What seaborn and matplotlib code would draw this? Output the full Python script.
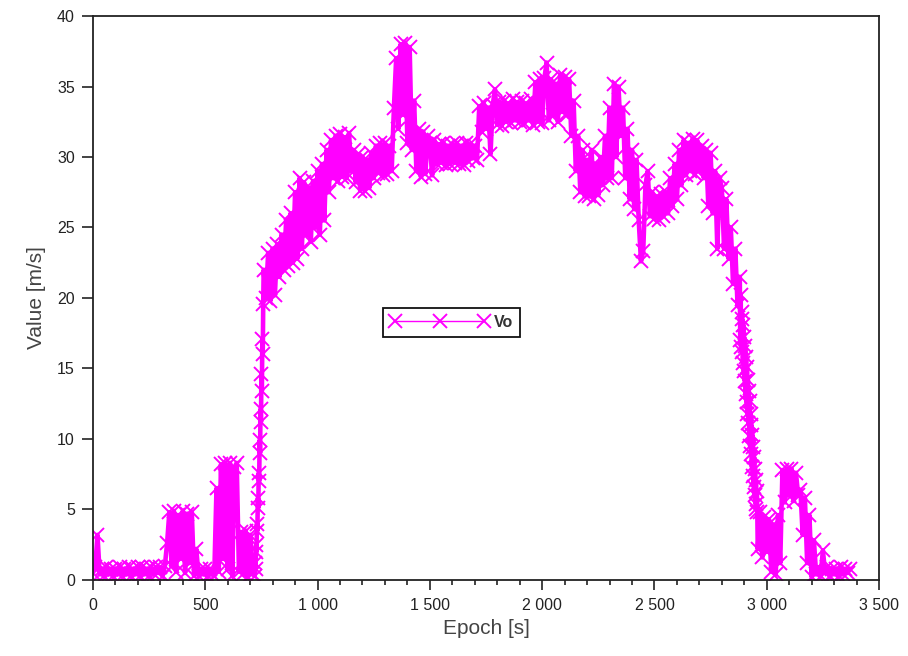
"""
Vo speed profile - Scilab-style line/marker plot recreated with seaborn
"""
import numpy as np
import matplotlib
matplotlib.use('Agg')
import matplotlib.pyplot as plt
from matplotlib.ticker import MultipleLocator, FuncFormatter
import seaborn as sns

# Vo readings [m/s]; 10 s apart except on the two steep ramps (2 s apart)
vo_start = [                                                    # 0 .. 710 s
    0.5, 0.9, 3.2, 0.4, 0.8, 0.3, 0.9, 0.4, 0.8, 0.3,
    0.8, 0.4, 0.9, 0.3, 0.8, 0.4, 0.9, 0.3, 0.8, 0.4,
    0.9, 0.3, 0.9, 0.4, 0.8, 0.3, 0.9, 0.4, 0.9, 0.5,
    0.9, 0.3, 1.0, 2.6, 4.8, 1.0, 4.9, 0.6, 4.6, 1.5,
    4.9, 0.5, 4.7, 1.2, 4.8, 0.3, 2.2, 0.3, 0.8, 0.4,
    0.8, 0.3, 0.8, 0.4, 0.3, 6.5, 0.6, 8.2, 1.5, 8.3,
    0.8, 8.3, 0.3, 8.0, 8.3, 0.6, 3.4, 0.4, 3.5, 0.2,
    3.2, 0.4,
]
vo_rise = [                                                     # 720 .. 760 s
    0.3, 1.2, 0.8, 2.5, 2.0, 4.0, 3.5, 5.8, 5.1, 7.6, 7.0,
    9.9, 9.0, 12.1, 11.2, 14.6, 13.4, 17.1, 16.0, 19.6, 22.0,
]
vo_mid = [                                                      # 770 .. 2870 s
    20.0, 23.2, 19.8,
    23.5, 20.2, 23.8, 21.5, 24.5, 22.0, 25.5, 22.3, 26.0, 22.5,
    27.5, 22.8, 28.5, 23.5, 28.2, 24.5, 27.8, 24.0, 28.3, 25.0,
    29.0, 24.5, 29.5, 25.5, 30.5, 27.5, 31.2, 28.5, 31.5, 28.3,
    31.6, 28.6, 31.4, 28.5, 31.7, 29.0, 30.5, 28.2, 30.2, 27.6,
    30.0, 27.6, 29.8, 27.8, 30.3, 28.5, 30.8, 28.9, 31.0, 28.7,
    31.0, 28.8, 30.8, 29.0, 33.5, 37.0, 32.0, 38.0, 33.0, 38.1,
    31.0, 37.8, 30.5, 34.0, 29.0, 32.0, 28.6, 31.8, 28.8, 31.5,
    31.0, 28.7, 31.2, 29.5, 30.9, 29.6, 31.0, 29.4, 30.8, 29.5,
    30.9, 29.6, 31.0, 29.5, 30.8, 29.4, 31.0, 29.7, 30.9, 29.9,
    30.8, 29.8, 33.6, 31.8, 33.8, 32.0, 33.5, 30.2, 33.7, 34.8,
    32.3, 33.9, 32.2, 34.0, 32.5, 33.8, 32.4, 34.1, 32.6, 33.9,
    32.5, 34.0, 32.4, 33.8, 32.6, 34.1, 32.3, 35.3, 32.5, 35.5,
    32.4, 35.6, 36.7, 32.6, 35.5, 33.0, 35.2, 32.5, 35.8, 33.2,
    35.7, 33.0, 35.5, 31.5, 34.0, 29.0, 31.5, 27.5, 30.5, 27.2,
    29.8, 27.2, 30.5, 27.0, 29.5, 27.3, 30.0, 28.0, 31.5, 28.5,
    33.5, 28.5, 35.2, 30.0, 35.0, 31.5, 33.5, 28.5, 32.0, 27.0,
    30.5, 26.3, 29.8, 25.5, 22.6, 23.3, 28.0, 29.0, 25.8, 27.5,
    25.6, 27.2, 25.5, 27.4, 25.8, 27.5, 26.0, 28.5, 26.5, 29.5,
    27.0, 30.5, 28.0, 31.2, 28.7, 31.0, 29.0, 31.3, 28.8, 31.2,
    29.0, 30.8, 28.5, 30.5, 26.5, 30.3, 26.0, 29.0, 23.5, 28.5,
    27.8, 23.5, 27.0, 22.8, 25.0, 21.0, 23.5, 19.5,
]
vo_fall = [                                                     # 2880 .. 2958 s
    21.5, 17.0, 20.2, 16.5, 19.0, 16.2, 18.5, 15.4, 18.1, 14.8,
    17.2, 14.1, 16.6, 13.2, 15.8, 12.6, 15.1, 11.8, 14.2, 11.1,
    13.4, 10.2, 12.7, 9.5, 11.8, 8.9, 11.0, 8.0, 10.3, 7.4,
    9.4, 6.6, 8.7, 6.0, 7.9, 5.4, 7.1, 5.0, 6.3, 4.8,
]
vo_end = [                                                      # 2960 .. 3370 s
    2.2, 4.8, 1.6, 4.5,
    2.0, 4.3, 0.6, 3.9, 0.4, 4.6, 1.2, 7.8, 5.5, 7.9,
    6.0, 7.9, 5.6, 7.6, 6.0, 6.4, 3.2, 5.8, 1.2, 4.6,
    0.2, 2.8, 0.4, 0.9, 0.3, 2.1, 0.5, 0.9, 0.3, 0.8,
    0.4, 0.8, 0.3, 0.9, 0.4, 0.8, 0.5, 0.8,
]

# sampling times [s] matching the segments above
epoch = np.concatenate([np.arange(0, 720, 10), np.arange(720, 762, 2),
                        np.arange(770, 2880, 10), np.arange(2880, 2960, 2),
                        np.arange(2960, 3380, 10)])
vo = np.array(vo_start + vo_rise + vo_mid + vo_fall + vo_end)

x_ticks = [0, 500, 1000, 1500, 2000, 2500, 3000, 3500]
y_ticks = [0, 5, 10, 15, 20, 25, 30, 35, 40]


def main():
    sns.set_style('white')
    plt.rcParams['font.family'] = ['Liberation Sans', 'DejaVu Sans']

    fig = plt.figure(figsize=(9.08, 6.56), dpi=100)
    ax = fig.add_axes([0.1024, 0.1159, 0.8657, 0.8597])

    sns.lineplot(x=epoch, y=vo, ax=ax, color='#ff00ff', linewidth=3.3,
                 marker='x', markersize=9.5, markeredgewidth=1.4,
                 markeredgecolor='#ff00ff', label='Vo', sort=False)

    ax.set_xlim(0, 3500)
    ax.set_ylim(0, 40)
    ax.set_xticks(x_ticks)
    ax.set_yticks(y_ticks)
    ax.xaxis.set_minor_locator(MultipleLocator(100))
    ax.xaxis.set_major_formatter(FuncFormatter(lambda v, p: f'{int(v):,}'.replace(',', ' ')))

    ax.tick_params(axis='x', which='major', length=7, width=1.2, direction='out',
                   labelsize=11.5, colors='#222222', pad=6)
    ax.tick_params(axis='x', which='minor', length=3.5, width=1.2, direction='out',
                   bottom=True, color='#222222')
    ax.tick_params(axis='y', which='major', length=8, width=1.2, direction='out',
                   labelsize=11.5, colors='#222222', pad=5)
    ax.tick_params(left=True, bottom=True)

    for side in ['left', 'bottom', 'top', 'right']:
        ax.spines[side].set_visible(True)
        ax.spines[side].set_color('#222222')
        ax.spines[side].set_linewidth(1.3)

    ax.set_xlabel('Epoch [s]', fontsize=15, color='#444444', labelpad=4)
    ax.set_ylabel('Value [m/s]', fontsize=15, color='#444444', labelpad=8)

    leg = ax.legend(loc='lower left', bbox_to_anchor=(0.369, 0.431), numpoints=3,
                    handlelength=6.2, handletextpad=0.3, borderpad=0.45,
                    borderaxespad=0, fancybox=False, framealpha=1,
                    edgecolor='#111111', fontsize=11.5)
    leg.get_frame().set_linewidth(1.3)
    for handle in leg.legend_handles:
        handle.set_linewidth(1.0)
    for txt in leg.get_texts():
        txt.set_color('#333333')
        txt.set_fontweight('bold')

    fig.savefig('out.png', dpi=100, facecolor='white')
    plt.close(fig)


if __name__ == '__main__':
    main()
